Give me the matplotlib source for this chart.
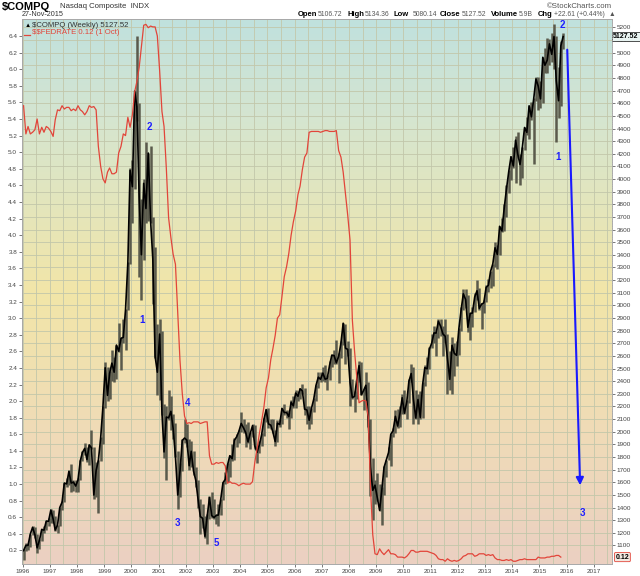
import numpy as np
import pandas as pd
import matplotlib
matplotlib.use("Agg")
import matplotlib.pyplot as plt
import matplotlib.dates as mdates
from matplotlib.colors import LinearSegmentedColormap
from matplotlib.ticker import FormatStrFormatter

plt.rcParams["font.family"] = ["Liberation Sans", "DejaVu Sans"]
plt.rcParams["text.parse_math"] = False

# Nasdaq Composite, monthly close / high / low, Jan 1996 .. Nov 2015
compq_close = [
    1059, 1100, 1101, 1191, 1243, 1185, 1081, 1141, 1227, 1221, 1293, 1291,
    1380, 1309, 1222, 1261, 1400, 1442, 1594, 1587, 1686, 1594, 1601, 1570,
    1619, 1771, 1835, 1868, 1779, 1895, 1872, 1499, 1694, 1771, 1950, 2193,
    2506, 2288, 2461, 2543, 2471, 2686, 2638, 2739, 2747, 2966, 3336, 4069,
    3940, 4697, 4573, 3861, 3401, 3966, 3767, 4206, 3673, 3370, 2598, 2471,
    2773, 2152, 1840, 2116, 2110, 2161, 2027, 1805, 1499, 1690, 1931, 1950,
    1934, 1731, 1845, 1688, 1616, 1463, 1328, 1315, 1172, 1330, 1479, 1336,
    1321, 1338, 1341, 1464, 1596, 1623, 1735, 1810, 1787, 1932, 1960, 2003,
    2066, 2030, 1994, 1920, 1987, 2048, 1887, 1838, 1897, 1975, 2097, 2175,
    2062, 2052, 1999, 1922, 2068, 2057, 2185, 2152, 2152, 2120, 2233, 2205,
    2306, 2281, 2340, 2323, 2179, 2172, 2091, 2184, 2258, 2367, 2432, 2415,
    2464, 2416, 2422, 2525, 2605, 2603, 2546, 2596, 2701, 2859, 2661, 2652,
    2390, 2271, 2279, 2413, 2523, 2293, 2326, 2368, 2092, 1721, 1536, 1577,
    1476, 1378, 1529, 1717, 1774, 1835, 1979, 2009, 2122, 2045, 2145, 2269,
    2147, 2238, 2398, 2461, 2257, 2109, 2255, 2114, 2369, 2507, 2498, 2653,
    2700, 2782, 2781, 2874, 2835, 2774, 2756, 2579, 2415, 2684, 2620, 2605,
    2814, 2967, 3092, 3046, 2827, 2935, 2940, 3067, 3116, 2977, 3010, 3020,
    3142, 3160, 3268, 3329, 3456, 3403, 3626, 3590, 3771, 3920, 4060, 4177,
    4104, 4308, 4199, 4115, 4243, 4408, 4370, 4580, 4493, 4631, 4792, 4736,
    4635, 4964, 4901, 4941, 5070, 4987, 5128, 4777, 4620, 5054, 5127.52,
]
compq_high = [
    1070, 1120, 1112, 1192, 1250, 1245, 1190, 1150, 1230, 1250, 1295, 1317,
    1390, 1383, 1330, 1265, 1405, 1450, 1595, 1630, 1697, 1745, 1620, 1620,
    1630, 1775, 1845, 1911, 1880, 1900, 2015, 1880, 1760, 1775, 1955, 2200,
    2550, 2510, 2480, 2650, 2590, 2690, 2860, 2750, 2890, 2970, 3340, 4090,
    4150, 4700, 5132, 4600, 3840, 4000, 4290, 4210, 4260, 3700, 3460, 2850,
    2890, 2800, 2220, 2200, 2330, 2280, 2140, 2070, 1850, 1750, 1940, 2100,
    2060, 1940, 1930, 1850, 1720, 1620, 1470, 1425, 1335, 1345, 1495, 1520,
    1470, 1350, 1425, 1470, 1600, 1680, 1750, 1815, 1905, 1950, 1980, 2010,
    2154, 2100, 2060, 2080, 2000, 2060, 2050, 1890, 1930, 1990, 2110, 2180,
    2190, 2100, 2100, 2010, 2090, 2100, 2190, 2220, 2170, 2160, 2250, 2280,
    2330, 2320, 2350, 2375, 2350, 2200, 2200, 2190, 2270, 2370, 2470, 2470,
    2510, 2530, 2450, 2560, 2615, 2650, 2725, 2620, 2720, 2861, 2850, 2720,
    2660, 2420, 2320, 2440, 2560, 2550, 2340, 2470, 2390, 2100, 1790, 1620,
    1670, 1590, 1560, 1730, 1780, 1880, 1985, 2030, 2170, 2180, 2200, 2295,
    2330, 2250, 2420, 2540, 2510, 2330, 2300, 2320, 2390, 2530, 2590, 2670,
    2770, 2840, 2790, 2890, 2890, 2840, 2890, 2770, 2640, 2750, 2700, 2720,
    2820, 2990, 3130, 3130, 3080, 2950, 2990, 3100, 3200, 3140, 3020, 3040,
    3160, 3210, 3270, 3330, 3500, 3480, 3630, 3690, 3800, 3950, 4070, 4180,
    4250, 4340, 4370, 4200, 4250, 4410, 4490, 4580, 4610, 4640, 4810, 4810,
    4780, 4970, 5040, 5120, 5110, 5160, 5230, 5130, 4890, 5090, 5160,
]
compq_low = [
    988, 1057, 1060, 1090, 1180, 1160, 1040, 1075, 1135, 1195, 1220, 1250,
    1280, 1280, 1215, 1200, 1255, 1380, 1440, 1560, 1580, 1520, 1530, 1520,
    1520, 1620, 1765, 1815, 1760, 1740, 1865, 1470, 1480, 1357, 1770, 1900,
    2190, 2240, 2260, 2400, 2390, 2420, 2630, 2490, 2700, 2650, 2960, 3330,
    3650, 3920, 4460, 3227, 3042, 3360, 3650, 3670, 3650, 3010, 2580, 2290,
    2250, 2130, 1790, 1620, 2090, 2010, 1940, 1800, 1387, 1480, 1690, 1910,
    1880, 1700, 1720, 1660, 1560, 1400, 1190, 1240, 1160, 1108, 1310, 1320,
    1310, 1270, 1253, 1340, 1460, 1590, 1600, 1640, 1770, 1780, 1880, 1910,
    1995, 1990, 1880, 1910, 1860, 1960, 1860, 1750, 1830, 1890, 1970, 2080,
    2030, 2020, 1990, 1890, 1920, 2040, 2060, 2130, 2110, 2025, 2110, 2190,
    2190, 2240, 2260, 2300, 2130, 2065, 2020, 2060, 2160, 2240, 2350, 2390,
    2400, 2390, 2330, 2410, 2510, 2540, 2540, 2386, 2580, 2690, 2540, 2600,
    2200, 2260, 2155, 2260, 2390, 2290, 2170, 2290, 2040, 1490, 1300, 1430,
    1450, 1370, 1265, 1500, 1640, 1780, 1730, 1960, 1990, 2030, 2040, 2140,
    2140, 2100, 2230, 2390, 2060, 2100, 2060, 2100, 2110, 2360, 2460, 2500,
    2660, 2700, 2600, 2740, 2760, 2600, 2700, 2300, 2330, 2300, 2440, 2520,
    2610, 2800, 2960, 2980, 2790, 2730, 2830, 2950, 3040, 2960, 2810, 2940,
    3030, 3110, 3140, 3150, 3300, 3290, 3400, 3580, 3590, 3700, 3890, 3990,
    4090, 3970, 4170, 3950, 4010, 4230, 4350, 4320, 4470, 4120, 4620, 4550,
    4560, 4600, 4840, 4840, 4900, 4930, 4870, 4292, 4480, 4580, 5030,
]
# effective fed funds rate, monthly, Jan 1996 .. Oct 2015
fedrate = [
    5.56, 5.22, 5.31, 5.22, 5.24, 5.27, 5.40, 5.22, 5.30, 5.24, 5.31, 5.29,
    5.25, 5.19, 5.39, 5.51, 5.50, 5.56, 5.52, 5.54, 5.54, 5.50, 5.52, 5.50,
    5.56, 5.51, 5.49, 5.45, 5.49, 5.56, 5.54, 5.55, 5.51, 5.07, 4.83, 4.68,
    4.63, 4.76, 4.81, 4.74, 4.74, 4.76, 4.99, 5.07, 5.22, 5.20, 5.42, 5.30,
    5.45, 5.73, 5.85, 6.02, 6.27, 6.53, 6.54, 6.50, 6.52, 6.51, 6.51, 6.40,
    5.98, 5.49, 5.31, 4.80, 4.21, 3.97, 3.77, 3.65, 3.07, 2.49, 2.09, 1.82,
    1.73, 1.74, 1.73, 1.75, 1.75, 1.75, 1.73, 1.74, 1.75, 1.75, 1.34, 1.24,
    1.24, 1.26, 1.25, 1.26, 1.26, 1.22, 1.01, 1.03, 1.01, 1.01, 1.00, 0.98,
    1.00, 1.01, 1.00, 1.00, 1.00, 1.03, 1.26, 1.43, 1.61, 1.76, 1.93, 2.16,
    2.28, 2.50, 2.63, 2.79, 3.00, 3.04, 3.26, 3.50, 3.62, 3.78, 4.00, 4.16,
    4.29, 4.49, 4.59, 4.79, 4.94, 4.99, 5.24, 5.25, 5.25, 5.25, 5.25, 5.24,
    5.25, 5.26, 5.26, 5.25, 5.25, 5.25, 5.26, 5.02, 4.94, 4.76, 4.49, 4.24,
    3.94, 2.98, 2.61, 2.28, 1.98, 2.00, 2.01, 2.00, 1.81, 0.97, 0.39, 0.16,
    0.15, 0.22, 0.18, 0.15, 0.18, 0.21, 0.16, 0.16, 0.15, 0.12, 0.12, 0.12,
    0.11, 0.13, 0.16, 0.20, 0.20, 0.18, 0.18, 0.19, 0.19, 0.19, 0.19, 0.18,
    0.17, 0.16, 0.14, 0.10, 0.09, 0.09, 0.07, 0.10, 0.08, 0.07, 0.08, 0.07,
    0.08, 0.10, 0.13, 0.14, 0.16, 0.16, 0.16, 0.13, 0.14, 0.16, 0.16, 0.16,
    0.14, 0.15, 0.14, 0.15, 0.11, 0.09, 0.09, 0.08, 0.08, 0.09, 0.08, 0.09,
    0.07, 0.07, 0.08, 0.09, 0.09, 0.10, 0.09, 0.09, 0.09, 0.09, 0.09, 0.12,
    0.11, 0.11, 0.11, 0.12, 0.12, 0.13, 0.13, 0.14, 0.14, 0.12,
]
# blue wave counts: (label, date, index level)
waves = [
    ("2", "2000-08-25", 4412), ("1", "2000-05-22", 2884), ("4", "2002-01-20", 2227),
    ("3", "2001-09-05", 1277), ("5", "2003-02-10", 1119), ("2", "2015-10-30", 5220),
    ("1", "2015-09-10", 4175), ("3", "2016-07-25", 1356),
]
arrow_start = ("2016-01-08", 5046)
arrow_end = ("2016-07-01", 1554)

months = pd.date_range("1996-01-01", periods=len(compq_close), freq="MS") + pd.Timedelta(days=14)
fed_months = pd.date_range("1996-01-01", periods=len(fedrate), freq="MS") + pd.Timedelta(days=14)

fig = plt.figure(figsize=(6.4, 5.76), dpi=100)
pos = [22 / 640, 1 - 564 / 576, 590 / 640, 545 / 576]

# gradient background
bg = fig.add_axes(pos, zorder=0)
cmap = LinearSegmentedColormap.from_list(
    "bg", [(0, "#c0e1de"), (0.18, "#d5e5d0"), (0.5, "#f2e6a8"), (0.78, "#efdab8"), (1, "#ebd0c2")])
bg.imshow(np.linspace(0, 1, 256).reshape(-1, 1), cmap=cmap, aspect="auto")
bg.axis("off")

ax = fig.add_axes(pos, zorder=1)
ax.patch.set_alpha(0)
grid_c = "#c2c7aa"
ax.grid(axis="y", color=grid_c, lw=0.6)
ax.grid(axis="x", which="both", color=grid_c, lw=0.6)
ax.set_axisbelow(True)

ax.vlines(months, compq_low, compq_high, color="#5a5a4c", lw=1.8, zorder=2)
ax.plot(months, compq_close, color="black", lw=1.2, zorder=3)

ax.set_xlim(pd.Timestamp("1995-12-25"), pd.Timestamp("2017-09-01"))
ax.set_ylim(953, 5267)
ax.xaxis.set_major_locator(mdates.YearLocator())
ax.xaxis.set_minor_locator(mdates.MonthLocator(bymonth=7))
ax.xaxis.set_major_formatter(mdates.DateFormatter("%Y"))
ax.set_yticks(range(1100, 5300, 100))

ax_fed = ax.twinx()
ax_fed.plot(fed_months, fedrate, color="#e2453a", lw=0.9)
ax_fed.set_ylim(0.037, 6.605)
ax_fed.yaxis.tick_left()
ax_fed.set_yticks(np.arange(0.2, 6.41, 0.2))
ax_fed.yaxis.set_major_formatter(FormatStrFormatter("%.1f"))
ax_fed.tick_params(axis="y", labelsize=4.6, colors="#444444", length=2, width=0.5, pad=1.5)

# twinx moves the main ticks to the left; put the index scale back on the right
ax.yaxis.tick_right()
ax.tick_params(axis="both", labelsize=4.6, colors="#444444", length=2, width=0.5, pad=1.5)
ax.tick_params(axis="x", which="minor", length=0)

for a in (ax, ax_fed):
    for s in a.spines.values():
        s.set_color("#a8a8a8")
        s.set_linewidth(0.6)
ax_fed.spines["right"].set_linestyle(":")

# wave labels and projected arrow
for label, d, v in waves:
    ax.text(pd.Timestamp(d), v, label, color="#1f1fff", fontsize=7, fontweight="bold",
            ha="center", va="center", zorder=5)
ax.annotate("", xy=(pd.Timestamp(arrow_end[0]), arrow_end[1]),
            xytext=(pd.Timestamp(arrow_start[0]), arrow_start[1]),
            arrowprops=dict(arrowstyle="-|>", color="#1a1aff", lw=1.5, mutation_scale=11),
            zorder=5)

# last value boxes
ax.text(1.002, compq_close[-1], "5127.52", transform=ax.get_yaxis_transform(),
        fontsize=5.0, fontweight="bold", va="center", ha="left", clip_on=False, zorder=6,
        bbox=dict(boxstyle="square,pad=0.12", fc="#e9f4f2", ec="#333333", lw=0.6))
ax_fed.text(1.006, fedrate[-1], "0.12", transform=ax_fed.get_yaxis_transform(), fontsize=5.0,
            fontweight="bold", va="center", ha="left", clip_on=False,
            bbox=dict(boxstyle="round,pad=0.15", fc="#f3e8e0", ec="#e2453a", lw=0.6))

# legend inside plot
ax.text(0.004, 0.993, "\u25b2", transform=ax.transAxes, fontsize=4.5, va="top", ha="left")
ax.text(0.017, 0.995, "$COMPQ (Weekly) 5127.52", transform=ax.transAxes, fontsize=5.6,
        va="top", ha="left", color="#333333")
ax.plot([0.004, 0.014], [0.970, 0.970], transform=ax.transAxes, color="#e2453a", lw=0.9)
ax.text(0.017, 0.982, "$$FEDRATE 0.12 (1 Oct)", transform=ax.transAxes, fontsize=5.6,
        va="top", ha="left", color="#e2453a")

# header
def px(x, y):
    return x / 640, 1 - y / 576

fig.text(*px(2, 7), "$COMPQ", fontsize=8, fontweight="bold", va="center")
fig.text(*px(60, 7), "Nasdaq Composite  INDX", fontsize=5.6, va="center", color="#333333")
fig.text(*px(22, 15), "27-Nov-2015", fontsize=5.2, va="center", color="#333333")
fig.text(*px(612, 6), "\u00a9StockCharts.com", fontsize=5.6, va="center", ha="right", color="#555555")
header = [("Open", 298, True), ("5106.72", 318, False), ("High", 347, True), ("5134.36", 365, False),
          ("Low", 394, True), ("5080.14", 413, False), ("Close", 440, True), ("5127.52", 462, False),
          ("Volume", 491, True), ("5.9B", 519, False), ("Chg", 538, True),
          ("+22.61 (+0.44%)", 554, False), ("\u25b2", 609, False)]
for txt, x, bold in header:
    fig.text(*px(x, 15), txt, fontsize=5.5 if bold else 4.9, va="center",
             fontweight="bold" if bold else "normal", color="black" if bold else "#555555")

fig.savefig("out.png", dpi=100)
